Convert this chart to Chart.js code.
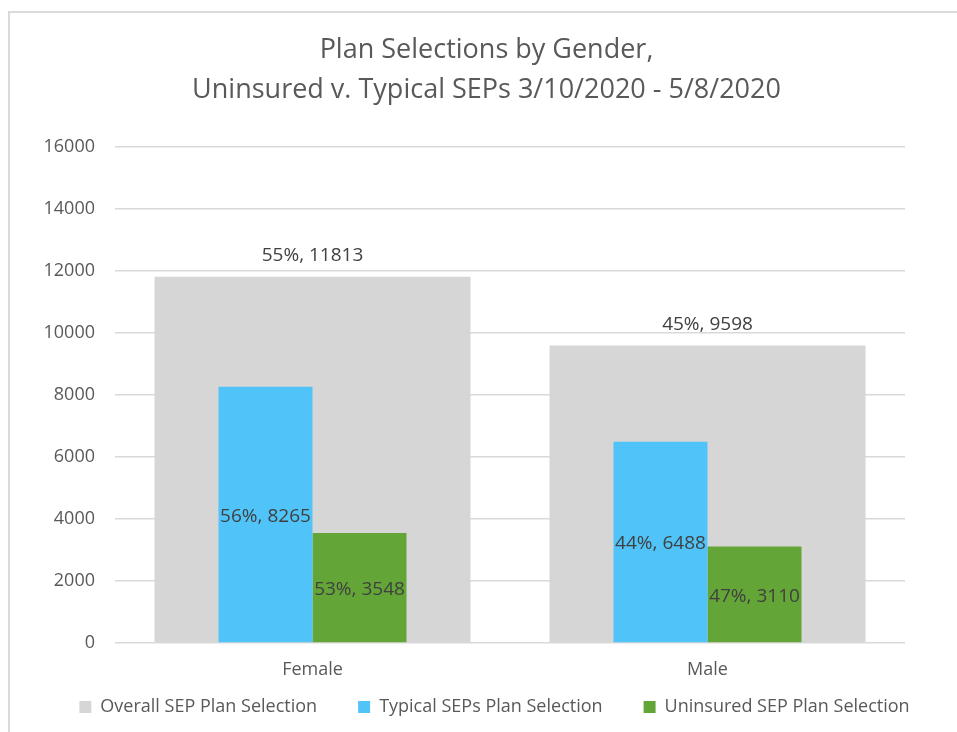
<!DOCTYPE html>
<html>
<head>
<meta charset="utf-8">
<script src="https://cdn.jsdelivr.net/npm/chart.js@4.4.1/dist/chart.umd.min.js"></script>
<style>
  html, body { margin: 0; padding: 0; background: #fff; }
  #frame { position: absolute; left: 8px; top: 11px; width: 2000px; height: 2000px; border: 2px solid #d9d9d9; }
  #wrap { position: absolute; left: 0; top: 0; width: 957px; height: 732px; }
</style>
</head>
<body>
<div id="frame"></div>
<div id="wrap"><canvas id="chart"></canvas></div>
<script>
// ─── Dados ───────────────────────────────────────────────
const categories = ['Female', 'Male'];
const overallSEP = [11813, 9598];
const typicalSEP = [8265, 6488];
const uninsuredSEP = [3548, 3110];
const yTicks = [0, 2000, 4000, 6000, 8000, 10000, 12000, 14000, 16000];

const FONT = '"Open Sans", sans-serif';
const TXT = '#595959';

// ─── Rótulos "pct%, valor" sobre as barras ─────────────────
const barLabels = {
  id: 'barLabels',
  afterDatasetsDraw(chart) {
    const ctx = chart.ctx;
    ctx.save();
    ctx.font = `19px ${FONT}`;
    ctx.fillStyle = '#404040';
    ctx.textAlign = 'center';
    ctx.textBaseline = 'middle';
    chart.data.datasets.forEach((ds, i) => {
      const meta = chart.getDatasetMeta(i);
      const total = ds.data.reduce((a, b) => a + b, 0);
      meta.data.forEach((bar, j) => {
        const v = ds.data[j];
        const txt = `${Math.round(v / total * 100)}%, ${v}`;
        const y = ds.labelAbove ? bar.y - 21 : (bar.y + bar.base) / 2 + 2;
        ctx.fillText(txt, bar.x, y);
      });
    });
    ctx.restore();
  }
};

// ─── Ajuste fino de título e legenda (centralização como no Excel) ──
const nudgeBoxes = {
  id: 'nudgeBoxes',
  afterLayout(chart) {
    const t = chart.titleBlock;
    t.left += 16;
    const lg = chart.legend;
    lg.left += 16;
    lg.right += 16;
    const dy = 657 - lg.top;
    lg.top += dy;
    lg.bottom += dy;
  }
};

new Chart(document.getElementById('chart'), {
  type: 'bar',
  data: {
    labels: categories,
    datasets: [
      {
        label: 'Overall SEP Plan Selection',
        data: overallSEP,
        backgroundColor: '#d6d6d6',
        grouped: false,
        order: 1,
        barPercentage: 1,
        categoryPercentage: 0.8,
        labelAbove: true,
      },
      {
        label: 'Typical SEPs Plan Selection',
        data: typicalSEP,
        backgroundColor: '#50c4f8',
        order: 0,
        barPercentage: 1,
        categoryPercentage: 0.476,
      },
      {
        label: 'Uninsured SEP Plan Selection',
        data: uninsuredSEP,
        backgroundColor: '#63a537',
        order: 0,
        barPercentage: 1,
        categoryPercentage: 0.476,
      },
    ]
  },
  options: {
    responsive: true,
    maintainAspectRatio: false,
    animation: false,
    layout: { padding: { left: 0, right: 0, top: 0, bottom: -20 } },
    scales: {
      x: {
        grid: { display: false },
        border: { display: false },
        afterFit: (scale) => { scale.height = 40; },
        ticks: { color: TXT, font: { family: FONT, size: 18 }, padding: 8 },
      },
      y: {
        min: 0,
        max: 16000,
        afterBuildTicks: (scale) => { scale.ticks = yTicks.map(v => ({ value: v })); },
        afterFit: (scale) => { scale.width = 115; },
        grid: { color: '#d9d9d9', lineWidth: 1.5, drawTicks: false },
        border: { display: false },
        ticks: {
          color: TXT,
          font: { family: FONT, size: 18 },
          padding: 20,
          callback: (v) => String(v),
        },
      },
      // eixo vazio à direita, só para reservar a margem
      yR: {
        position: 'right',
        grid: { display: false },
        border: { display: false },
        ticks: { display: false },
        afterFit: (scale) => { scale.width = 52; },
      }
    },
    plugins: {
      title: {
        display: true,
        text: ['Plan Selections by Gender,', 'Uninsured v. Typical SEPs 3/10/2020 - 5/8/2020'],
        color: TXT,
        font: { family: FONT, size: 27, weight: 'normal', lineHeight: 1.5 },
        padding: { top: 30, bottom: 36 },
      },
      legend: {
        position: 'bottom',
        labels: {
          color: TXT,
          font: { family: FONT, size: 18 },
          boxWidth: 12,
          boxHeight: 12,
          padding: 41,
          sort: (a, b) => a.datasetIndex - b.datasetIndex,
        }
      },
      tooltip: { enabled: false }
    }
  },
  plugins: [barLabels, nudgeBoxes]
});
</script>
</body>
</html>
